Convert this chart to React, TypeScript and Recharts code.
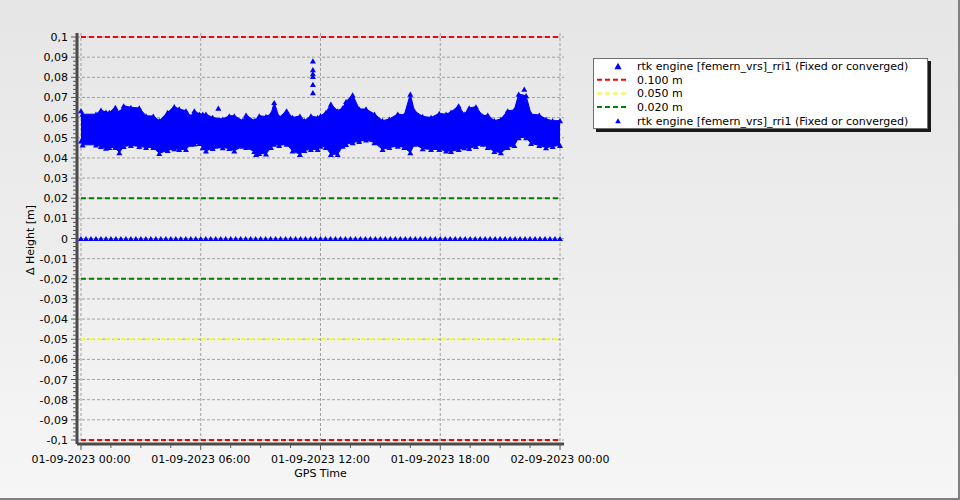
import React from 'react';
import { ComposedChart, Area, Scatter, XAxis, YAxis, CartesianGrid, ReferenceLine, Label } from 'recharts';

// ---- data (hours since 01-09-2023 00:00, Δ height in metres) ----
const bandHours = [0, 0.08, 0.75, 1.0, 1.25, 1.42, 1.72, 1.92, 2.14, 2.5, 2.92, 3.26, 3.62, 3.92, 4.34, 4.67, 4.92, 5.26, 5.51, 5.68, 5.93, 6.1, 6.26, 6.6, 7.1, 7.43, 7.68, 8.1, 8.27, 8.68, 8.77, 8.93, 9.27, 9.52, 9.68, 9.93, 10.3, 10.6, 10.97, 11.19, 11.52, 11.86, 12.0, 12.27, 12.52, 12.86, 13.11, 13.28, 13.61, 13.94, 14.28, 14.7, 15.11, 15.45, 15.87, 16.2, 16.5, 16.7, 17.12, 17.54, 17.95, 18.29, 18.54, 18.92, 19.2, 19.45, 19.79, 20.13, 20.38, 20.71, 21.04, 21.38, 21.71, 21.93, 22.3, 22.55, 22.96, 23.3, 23.63, 24.0];
const bandUpper = [0.0634, 0.0617, 0.0617, 0.0637, 0.0628, 0.0626, 0.0651, 0.0626, 0.0659, 0.0651, 0.0648, 0.0609, 0.0608, 0.0585, 0.0626, 0.0655, 0.0643, 0.0634, 0.0606, 0.0634, 0.0618, 0.0617, 0.0617, 0.0601, 0.0593, 0.0609, 0.0609, 0.0585, 0.0613, 0.0585, 0.0588, 0.0609, 0.0606, 0.0618, 0.0675, 0.0601, 0.0634, 0.0601, 0.0608, 0.0585, 0.0609, 0.0601, 0.0609, 0.0626, 0.0667, 0.0634, 0.0648, 0.0680, 0.0713, 0.0643, 0.0643, 0.0618, 0.0585, 0.0593, 0.0618, 0.0613, 0.0717, 0.0634, 0.0606, 0.0601, 0.0621, 0.0617, 0.0628, 0.0659, 0.0617, 0.0648, 0.0654, 0.0609, 0.0613, 0.0585, 0.0593, 0.0634, 0.0638, 0.0717, 0.0709, 0.0617, 0.0613, 0.0593, 0.0585, 0.0585];
const bandLower = [0.0484, 0.0465, 0.0465, 0.0457, 0.0448, 0.0452, 0.0452, 0.0426, 0.0457, 0.0462, 0.0457, 0.0452, 0.0452, 0.0423, 0.0437, 0.0446, 0.0442, 0.0442, 0.0468, 0.0470, 0.0472, 0.0451, 0.0435, 0.0447, 0.0451, 0.0447, 0.0435, 0.0458, 0.0452, 0.0432, 0.0418, 0.0422, 0.0420, 0.0452, 0.0468, 0.0462, 0.0468, 0.0435, 0.0418, 0.0437, 0.0442, 0.0442, 0.0458, 0.0452, 0.0418, 0.0418, 0.0458, 0.0467, 0.0476, 0.0482, 0.0489, 0.0476, 0.0442, 0.0452, 0.0458, 0.0452, 0.0426, 0.0468, 0.0446, 0.0442, 0.0442, 0.0435, 0.0432, 0.0442, 0.0451, 0.0447, 0.0457, 0.0468, 0.0452, 0.0432, 0.0426, 0.0452, 0.0462, 0.0501, 0.0501, 0.0472, 0.0462, 0.0451, 0.0457, 0.0462];
const outlierHours = [11.62, 11.62, 11.62, 11.62, 11.62, 11.62, 6.88, 22.21];
const outlierValues = [0.0882, 0.0838, 0.0818, 0.0805, 0.0765, 0.0724, 0.0647, 0.0741];
const zeroEpochHours = Array.from({ length: 97 }, (_, i) => i * 0.25);
const zeroValue = 0;

const thresholdValues = [0.1, 0.05, 0.02];
const thresholdColors = ['#FF0000', '#FFFF00', '#008000'];
const thresholdNames = ['0.100 m', '0.050 m', '0.020 m'];
const seriesName = 'rtk engine [femern_vrs]_rri1 (Fixed or converged)';

const xMajorTicks = [0, 6, 12, 18, 24];
const xTickLabels = ['01-09-2023 00:00', '01-09-2023 06:00', '01-09-2023 12:00', '01-09-2023 18:00', '02-09-2023 00:00'];
const xMinorTicks = [1.5, 3, 4.5, 7.5, 9, 10.5, 13.5, 15, 16.5, 19.5, 21, 22.5];
const yMajorTicks = [-0.1, -0.09, -0.08, -0.07, -0.06, -0.05, -0.04, -0.03, -0.02, -0.01, 0, 0.01, 0.02, 0.03, 0.04, 0.05, 0.06, 0.07, 0.08, 0.09, 0.1];
const yAllTicks = Array.from({ length: 101 }, (_, i) => Math.round((i * 2 - 100)) / 1000);

// ---- derived tables ----
const bandData = bandHours.map((h, i) => ({ h, range: [bandLower[i], bandUpper[i]] }));
const upperPts = bandHours.map((h, i) => ({ h, v: bandUpper[i] }));
const lowerPts = bandHours.map((h, i) => ({ h, v: bandLower[i] }));
const outlierPts = outlierHours.map((h, i) => ({ h, v: outlierValues[i] }));
const zeroPts = zeroEpochHours.map((h) => ({ h, v: zeroValue }));

const FONT = '"DejaVu Sans", Verdana, sans-serif';
const BLUE = '#0000FF';

const Tri = (props: any) => {
  const { cx, cy } = props;
  if (cx == null || cy == null) return null;
  const w = 3, hgt = 2.6;
  return <polygon points={`${cx - w},${cy + hgt} ${cx + w},${cy + hgt} ${cx},${cy - hgt}`} fill={BLUE} />;
};

const fmtY = (v: number) => {
  if (Math.abs(v) < 1e-9) return '0';
  return String(+v.toFixed(2)).replace('.', ',');
};

const isMajorY = (v: number) => yMajorTicks.some((m) => Math.abs(m - v) < 1e-9);

const YTick = (props: any) => {
  const { x, y, payload } = props;
  const major = isMajorY(payload.value);
  return (
    <g>
      <line x1={x - (major ? 6 : 4)} x2={x} y1={y} y2={y} stroke="#555" strokeWidth={1} />
      {major && (
        <text x={x - 9} y={y + 4} textAnchor="end" fontFamily={FONT} fontSize={11} fill="#000">
          {fmtY(payload.value)}
        </text>
      )}
    </g>
  );
};

const XTick = (props: any) => {
  const { x, y, payload } = props;
  const idx = xMajorTicks.indexOf(payload.value);
  const major = idx >= 0;
  return (
    <g>
      <line x1={x} x2={x} y1={y} y2={y + (major ? 6 : 4)} stroke="#555" strokeWidth={1} />
      {major && (
        <text x={x} y={y + 19} textAnchor="middle" fontFamily={FONT} fontSize={11} fill="#000">
          {xTickLabels[idx]}
        </text>
      )}
    </g>
  );
};

const LegendBox = () => {
  const rows = [0, 1, 2, 3, 4];
  const rowY = (i: number) => 7 + i * 13.7;
  return (
    <div
      style={{
        position: 'absolute',
        left: 593,
        top: 58,
        width: 335,
        height: 71,
        background: '#FFFFFF',
        border: '1px solid #707070',
        boxShadow: '3px 3px 0 #1a1a1a',
        boxSizing: 'border-box',
      }}
    >
      <svg width={333} height={69} style={{ display: 'block', overflow: 'visible' }}>
        {rows.map((i) => {
          const cy = rowY(i);
          let symbol: React.ReactNode = null;
          let label = '';
          if (i === 0 || i === 4) {
            const w = i === 0 ? 3.6 : 2.8;
            const hh = i === 0 ? 3.2 : 2.5;
            symbol = <polygon points={`${24 - w},${cy + hh} ${24 + w},${cy + hh} ${24},${cy - hh}`} fill={BLUE} />;
            label = seriesName;
          } else {
            symbol = <line x1={3} x2={34} y1={cy} y2={cy} stroke={thresholdColors[i - 1]} strokeWidth={2} strokeDasharray="5 3" />;
            label = thresholdNames[i - 1];
          }
          return (
            <g key={i}>
              {symbol}
              <text x={43} y={cy + 4} fontFamily={FONT} fontSize={11} fill="#000">{label}</text>
            </g>
          );
        })}
      </svg>
    </div>
  );
};

export default function App() {
  return (
    <div
      style={{
        position: 'absolute',
        left: 0,
        top: 0,
        width: 960,
        height: 500,
        boxSizing: 'border-box',
        background: 'linear-gradient(to bottom, #E6E6E6 0%, #EDEDED 50%, #F6F6F6 100%)',
        borderRight: '2px solid #808080',
        borderBottom: '2px solid #808080',
        overflow: 'hidden',
      }}
    >
      <div style={{ position: 'absolute', left: 0, top: 0 }}>
        <ComposedChart
          width={960}
          height={500}
          data={bandData}
          margin={{ top: 33, right: 396, bottom: 16, left: 0 }}
        >
          <CartesianGrid
            stroke="#A0A0A0"
            strokeDasharray="3 2"
            horizontalValues={yMajorTicks}
            verticalValues={xMajorTicks}
            fill="none"
          />
          <XAxis
            dataKey="h"
            type="number"
            domain={[-0.2, 24.2]}
            allowDataOverflow
            ticks={[...xMajorTicks, ...xMinorTicks].sort((a, b) => a - b)}
            interval={0}
            tickSize={0}
            tickMargin={0}
            tickLine={false}
            tick={<XTick />}
            height={40}
            axisLine={{ stroke: '#4A4A4A', strokeWidth: 3 }}
          >
            <Label
              content={(p: any) => {
                const vb = p.viewBox || { x: 77, width: 487, y: 444 };
                return (
                  <text x={vb.x + vb.width / 2} y={477} textAnchor="middle" fontFamily={FONT} fontSize={11} fill="#000">
                    GPS Time
                  </text>
                );
              }}
            />
          </XAxis>
          <YAxis
            type="number"
            domain={[-0.102, 0.102]}
            allowDataOverflow
            ticks={yAllTicks}
            interval={0}
            tickSize={0}
            tickMargin={0}
            tickLine={false}
            tick={<YTick />}
            width={77}
            axisLine={{ stroke: '#4A4A4A', strokeWidth: 3 }}
          >
            <Label
              content={() => (
                <text
                  x={30}
                  y={240}
                  transform="rotate(-90, 30, 240)"
                  textAnchor="middle"
                  dominantBaseline="central"
                  fontFamily={FONT}
                  fontSize={11}
                  fill="#000"
                >
                  Δ Height [m]
                </text>
              )}
            />
          </YAxis>
          {thresholdValues.map((t, i) => (
            <ReferenceLine
              key={`p${i}`}
              segment={[{ x: 0, y: t }, { x: 24, y: t }]}
              stroke={thresholdColors[i]}
              strokeWidth={2}
              strokeDasharray="5 3"
              zIndex={50}
            />
          ))}
          {thresholdValues.map((t, i) => (
            <ReferenceLine
              key={`n${i}`}
              segment={[{ x: 0, y: -t }, { x: 24, y: -t }]}
              stroke={thresholdColors[i]}
              strokeWidth={2}
              strokeDasharray="5 3"
              zIndex={50}
            />
          ))}
          <Area
            type="linear"
            dataKey="range"
            stroke={BLUE}
            strokeWidth={1}
            fill={BLUE}
            fillOpacity={1}
            isAnimationActive={false}
            dot={false}
            activeDot={false}
          />
          <Scatter data={upperPts} dataKey="v" shape={<Tri />} isAnimationActive={false} />
          <Scatter data={lowerPts} dataKey="v" shape={<Tri />} isAnimationActive={false} />
          <Scatter data={outlierPts} dataKey="v" shape={<Tri />} isAnimationActive={false} />
          <Scatter data={zeroPts} dataKey="v" shape={<Tri />} isAnimationActive={false} />
        </ComposedChart>
      </div>
      <LegendBox />
    </div>
  );
}
